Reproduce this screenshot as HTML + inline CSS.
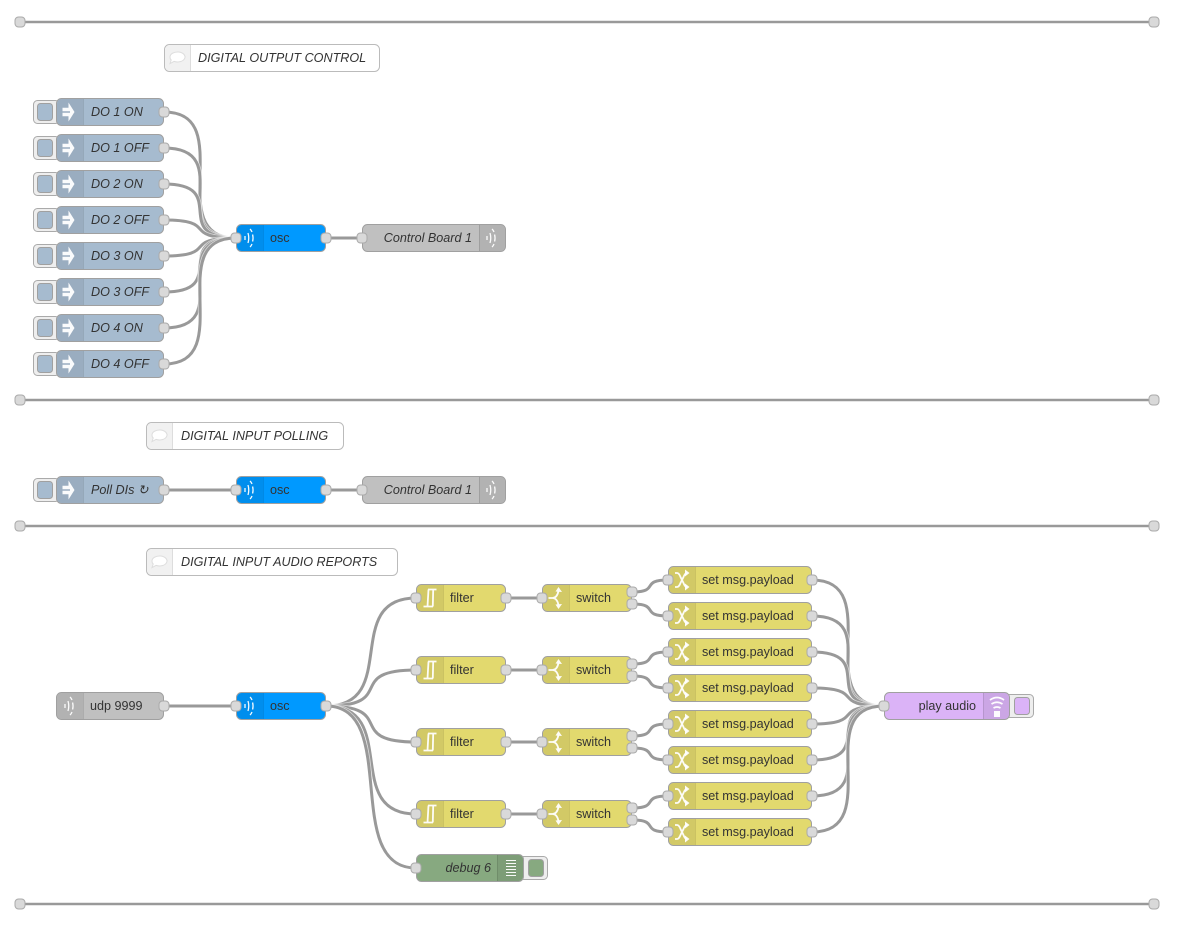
<!DOCTYPE html>
<html><head><meta charset="utf-8"><style>
html,body{margin:0;padding:0;background:#fff}
svg{display:block}
text{font-family:"Liberation Sans",sans-serif;font-size:12.6px;fill:#333}
.i{font-style:italic}
.e{text-anchor:end}
.w path{fill:none;stroke:#999;stroke-width:3}
.w path.o{stroke:#fff;stroke-width:4.6;stroke-opacity:.6}
.n{stroke:#a0a0a0;stroke-width:1}
.a{fill:#000;fill-opacity:.07}
.s{stroke:#000;stroke-opacity:.1;stroke-width:1}
.inj{fill:#a6bbcf}.osc{fill:#0099ff}.gry{fill:#c0c0c0}.yel{fill:#e2d96e}.pur{fill:#dbb3f7}.grn{fill:#87a980}
.btn{fill:#eee;stroke:#aaa;stroke-width:1}
.p{fill:#d9d9d9;stroke:#aaa;stroke-width:1}
.c{fill:#fff;stroke:#bbb;stroke-width:1}
.ca{fill:#f1f1f1;stroke:none}
.t{stroke:#999;stroke-width:2.6}
.ic{fill:none;stroke:#fff;stroke-opacity:.95;stroke-width:1.8}
.if{fill:#fff;fill-opacity:.95;stroke:none}
</style></head><body>
<svg width="1182" height="931" viewBox="0 0 1182 931" xmlns="http://www.w3.org/2000/svg">
<defs>
<rect id="port" x="-5" y="-5" width="10" height="10" rx="3.500" class="p"/>
<g id="iinj"><path class="if" d="M-6.500,-4.200H-.5V-9.500L5.500,0L-.5,9.500V4.200H-6.500V.8H1V-.8H-6.500Z"/></g>
<g id="iosc"><path class="ic" style="stroke-width:1.300" d="M-4,-2V2M-1,-5Q.5,0 -1,5M1,-9Q2.200,-8 3,-6M3.600,-3.500Q4.500,0 3.600,3.500M3,6Q2.200,8 1,9"/></g>
<g id="ifil"><path class="ic" d="M-2,-8.500H6.500M-1.500,-8.500L-2.500,8.500M3.200,-8.500L2.800,8.500M-6.500,8.500H3"/></g>
<g id="isw"><path class="ic" d="M-7.500,0H-3.500Q1,0 2.500,-7M-3.500,0Q1,0 2.500,7"/><path class="if" d="M2.500,-11L6,-6L-.5,-6.500ZM2.500,11L6,6L-.5,6.500Z"/></g>
<g id="ishu"><path class="ic" d="M-7,-7H-5Q-3,-7 -1.500,-3L1.500,3Q3,7 5,7M-7,7H-5Q-3,7 -1.500,3L1.500,-3Q3,-7 5,-7"/><path class="if" d="M3,-10.500L7.500,-7L3,-3.500ZM3,3.500L7.500,7L3,10.500Z"/></g>
<g id="ibub"><path d="M-7.500,0a7.500,5 0 1 1 4,4.400l-4,2.200l1.200,-3.600a7.500,5 0 0 1 -1.200,-3z" fill="#fff" stroke="#ddd"/></g>
</defs>

<!-- wires -->
<g class="w">
<path class="o" d="M164,112C239,112 161,238 236,238"/><path d="M164,112C239,112 161,238 236,238"/>
<path class="o" d="M164,148C239,148 161,238 236,238"/><path d="M164,148C239,148 161,238 236,238"/>
<path class="o" d="M164,184C231.500,184 168.500,238 236,238"/><path d="M164,184C231.500,184 168.500,238 236,238"/>
<path class="o" d="M164,220C219.600,220 180.400,238 236,238"/><path d="M164,220C219.600,220 180.400,238 236,238"/>
<path class="o" d="M164,256C219.600,256 180.400,238 236,238"/><path d="M164,256C219.600,256 180.400,238 236,238"/>
<path class="o" d="M164,292C231.500,292 168.500,238 236,238"/><path d="M164,292C231.500,292 168.500,238 236,238"/>
<path class="o" d="M164,328C239,328 161,238 236,238"/><path d="M164,328C239,328 161,238 236,238"/>
<path class="o" d="M164,364C239,364 161,238 236,238"/><path d="M164,364C239,364 161,238 236,238"/>
<path d="M326,238H362"/>
<path d="M164,490H236"/>
<path d="M326,490H362"/>
<path d="M164,706H236"/>
<path class="o" d="M326,706C401,706 341,598 416,598"/><path d="M326,706C401,706 341,598 416,598"/>
<path class="o" d="M326,706C398.700,706 343.300,670 416,670"/><path d="M326,706C398.700,706 343.300,670 416,670"/>
<path class="o" d="M326,706C398.700,706 343.300,742 416,742"/><path d="M326,706C398.700,706 343.300,742 416,742"/>
<path class="o" d="M326,706C401,706 341,814 416,814"/><path d="M326,706C401,706 341,814 416,814"/>
<path class="o" d="M326,706C401,706 341,868 416,868"/><path d="M326,706C401,706 341,868 416,868"/>
<path d="M506,598H542"/><path d="M506,670H542"/><path d="M506,742H542"/><path d="M506,814H542"/>
<path d="M632,592C660.500,592 639.500,580 668,580"/><path d="M632,604C660.500,604 639.500,616 668,616"/>
<path d="M632,664C660.500,664 639.500,652 668,652"/><path d="M632,676C660.500,676 639.500,688 668,688"/>
<path d="M632,736C660.500,736 639.500,724 668,724"/><path d="M632,748C660.500,748 639.500,760 668,760"/>
<path d="M632,808C660.500,808 639.500,796 668,796"/><path d="M632,820C660.500,820 639.500,832 668,832"/>
<path class="o" d="M812,580C887,580 809,706 884,706"/><path d="M812,580C887,580 809,706 884,706"/>
<path class="o" d="M812,616C887,616 809,706 884,706"/><path d="M812,616C887,616 809,706 884,706"/>
<path class="o" d="M812,652C879.500,652 816.500,706 884,706"/><path d="M812,652C879.500,652 816.500,706 884,706"/>
<path class="o" d="M812,688C867.600,688 828.400,706 884,706"/><path d="M812,688C867.600,688 828.400,706 884,706"/>
<path class="o" d="M812,724C867.600,724 828.400,706 884,706"/><path d="M812,724C867.600,724 828.400,706 884,706"/>
<path class="o" d="M812,760C879.500,760 816.500,706 884,706"/><path d="M812,760C879.500,760 816.500,706 884,706"/>
<path class="o" d="M812,796C887,796 809,706 884,706"/><path d="M812,796C887,796 809,706 884,706"/>
<path class="o" d="M812,832C887,832 809,706 884,706"/><path d="M812,832C887,832 809,706 884,706"/>
</g>

<!-- tab lines -->
<path class="t" d="M20,22H1154M20,400H1154M20,526H1154M20,904H1154"/>
<use href="#port" x="20" y="22"/><use href="#port" x="1154" y="22"/>
<use href="#port" x="20" y="400"/><use href="#port" x="1154" y="400"/>
<use href="#port" x="20" y="526"/><use href="#port" x="1154" y="526"/>
<use href="#port" x="20" y="904"/><use href="#port" x="1154" y="904"/>

<!-- comments -->
<rect class="c" x="164.500" y="44.500" width="215" height="27" rx="5"/><path class="ca" d="M165,50a5,5 0 0 1 5,-5h20v26h-20a5,5 0 0 1 -5,-5z"/><path stroke="#ddd" d="M190.500,45V71"/>
<use href="#ibub" x="177.500" y="57"/><text class="i" x="198" y="62">DIGITAL OUTPUT CONTROL</text>
<rect class="c" x="146.500" y="422.500" width="197" height="27" rx="5"/><path class="ca" d="M147,428a5,5 0 0 1 5,-5h20v26h-20a5,5 0 0 1 -5,-5z"/><path stroke="#ddd" d="M172.500,423V449"/>
<use href="#ibub" x="159.500" y="435"/><text class="i" x="181" y="440">DIGITAL INPUT POLLING</text>
<rect class="c" x="146.500" y="548.500" width="251" height="27" rx="5"/><path class="ca" d="M147,554a5,5 0 0 1 5,-5h20v26h-20a5,5 0 0 1 -5,-5z"/><path stroke="#ddd" d="M172.500,549V575"/>
<use href="#ibub" x="159.500" y="561"/><text class="i" x="181" y="566">DIGITAL INPUT AUDIO REPORTS</text>

<!-- inject nodes -->
<g>
<rect class="btn" x="33.500" y="100.500" width="26" height="23" rx="4"/><rect class="inj n" x="37.500" y="103.500" width="15" height="17" rx="3"/>
<rect class="inj n" x="56.500" y="98.500" width="107" height="27" rx="5"/><path class="a" d="M57,104a5,5 0 0 1 5,-5h21v26h-21a5,5 0 0 1 -5,-5z"/><path class="s" d="M83.500,99V125"/><use href="#iinj" x="69" y="112"/><text class="i" x="91" y="116">DO 1 ON</text><use href="#port" x="164" y="112"/>

<rect class="btn" x="33.500" y="136.500" width="26" height="23" rx="4"/><rect class="inj n" x="37.500" y="139.500" width="15" height="17" rx="3"/>
<rect class="inj n" x="56.500" y="134.500" width="107" height="27" rx="5"/><path class="a" d="M57,140a5,5 0 0 1 5,-5h21v26h-21a5,5 0 0 1 -5,-5z"/><path class="s" d="M83.500,135V161"/><use href="#iinj" x="69" y="148"/><text class="i" x="91" y="152">DO 1 OFF</text><use href="#port" x="164" y="148"/>

<rect class="btn" x="33.500" y="172.500" width="26" height="23" rx="4"/><rect class="inj n" x="37.500" y="175.500" width="15" height="17" rx="3"/>
<rect class="inj n" x="56.500" y="170.500" width="107" height="27" rx="5"/><path class="a" d="M57,176a5,5 0 0 1 5,-5h21v26h-21a5,5 0 0 1 -5,-5z"/><path class="s" d="M83.500,171V197"/><use href="#iinj" x="69" y="184"/><text class="i" x="91" y="188">DO 2 ON</text><use href="#port" x="164" y="184"/>

<rect class="btn" x="33.500" y="208.500" width="26" height="23" rx="4"/><rect class="inj n" x="37.500" y="211.500" width="15" height="17" rx="3"/>
<rect class="inj n" x="56.500" y="206.500" width="107" height="27" rx="5"/><path class="a" d="M57,212a5,5 0 0 1 5,-5h21v26h-21a5,5 0 0 1 -5,-5z"/><path class="s" d="M83.500,207V233"/><use href="#iinj" x="69" y="220"/><text class="i" x="91" y="224">DO 2 OFF</text><use href="#port" x="164" y="220"/>

<rect class="btn" x="33.500" y="244.500" width="26" height="23" rx="4"/><rect class="inj n" x="37.500" y="247.500" width="15" height="17" rx="3"/>
<rect class="inj n" x="56.500" y="242.500" width="107" height="27" rx="5"/><path class="a" d="M57,248a5,5 0 0 1 5,-5h21v26h-21a5,5 0 0 1 -5,-5z"/><path class="s" d="M83.500,243V269"/><use href="#iinj" x="69" y="256"/><text class="i" x="91" y="260">DO 3 ON</text><use href="#port" x="164" y="256"/>

<rect class="btn" x="33.500" y="280.500" width="26" height="23" rx="4"/><rect class="inj n" x="37.500" y="283.500" width="15" height="17" rx="3"/>
<rect class="inj n" x="56.500" y="278.500" width="107" height="27" rx="5"/><path class="a" d="M57,284a5,5 0 0 1 5,-5h21v26h-21a5,5 0 0 1 -5,-5z"/><path class="s" d="M83.500,279V305"/><use href="#iinj" x="69" y="292"/><text class="i" x="91" y="296">DO 3 OFF</text><use href="#port" x="164" y="292"/>

<rect class="btn" x="33.500" y="316.500" width="26" height="23" rx="4"/><rect class="inj n" x="37.500" y="319.500" width="15" height="17" rx="3"/>
<rect class="inj n" x="56.500" y="314.500" width="107" height="27" rx="5"/><path class="a" d="M57,320a5,5 0 0 1 5,-5h21v26h-21a5,5 0 0 1 -5,-5z"/><path class="s" d="M83.500,315V341"/><use href="#iinj" x="69" y="328"/><text class="i" x="91" y="332">DO 4 ON</text><use href="#port" x="164" y="328"/>

<rect class="btn" x="33.500" y="352.500" width="26" height="23" rx="4"/><rect class="inj n" x="37.500" y="355.500" width="15" height="17" rx="3"/>
<rect class="inj n" x="56.500" y="350.500" width="107" height="27" rx="5"/><path class="a" d="M57,356a5,5 0 0 1 5,-5h21v26h-21a5,5 0 0 1 -5,-5z"/><path class="s" d="M83.500,351V377"/><use href="#iinj" x="69" y="364"/><text class="i" x="91" y="368">DO 4 OFF</text><use href="#port" x="164" y="364"/>

<rect class="btn" x="33.500" y="478.500" width="26" height="23" rx="4"/><rect class="inj n" x="37.500" y="481.500" width="15" height="17" rx="3"/>
<rect class="inj n" x="56.500" y="476.500" width="107" height="27" rx="5"/><path class="a" d="M57,482a5,5 0 0 1 5,-5h21v26h-21a5,5 0 0 1 -5,-5z"/><path class="s" d="M83.500,477V503"/><use href="#iinj" x="69" y="490"/><text class="i" x="91" y="494">Poll DIs ↻</text><use href="#port" x="164" y="490"/>
</g>

<!-- osc nodes -->
<rect class="osc n" x="236.500" y="224.500" width="89" height="27" rx="5"/><path class="a" d="M237,230a5,5 0 0 1 5,-5h21v26h-21a5,5 0 0 1 -5,-5z"/><path class="s" d="M263.500,225V251"/><use href="#iosc" x="249" y="238"/><text x="270" y="242">osc</text><use href="#port" x="236" y="238"/><use href="#port" x="326" y="238"/>
<rect class="osc n" x="236.500" y="476.500" width="89" height="27" rx="5"/><path class="a" d="M237,482a5,5 0 0 1 5,-5h21v26h-21a5,5 0 0 1 -5,-5z"/><path class="s" d="M263.500,477V503"/><use href="#iosc" x="249" y="490"/><text x="270" y="494">osc</text><use href="#port" x="236" y="490"/><use href="#port" x="326" y="490"/>
<rect class="osc n" x="236.500" y="692.500" width="89" height="27" rx="5"/><path class="a" d="M237,698a5,5 0 0 1 5,-5h21v26h-21a5,5 0 0 1 -5,-5z"/><path class="s" d="M263.500,693V719"/><use href="#iosc" x="249" y="706"/><text x="270" y="710">osc</text><use href="#port" x="236" y="706"/><use href="#port" x="326" y="706"/>

<!-- udp out -->
<rect class="gry n" x="362.500" y="224.500" width="143" height="27" rx="5"/><path class="a" d="M479,225h21a5,5 0 0 1 5,5v16a5,5 0 0 1 -5,5h-21z"/><path class="s" d="M479.500,225V251"/><use href="#iosc" x="491" y="238"/><text class="i e" x="472" y="242">Control Board 1</text><use href="#port" x="362" y="238"/>
<rect class="gry n" x="362.500" y="476.500" width="143" height="27" rx="5"/><path class="a" d="M479,477h21a5,5 0 0 1 5,5v16a5,5 0 0 1 -5,5h-21z"/><path class="s" d="M479.500,477V503"/><use href="#iosc" x="491" y="490"/><text class="i e" x="472" y="494">Control Board 1</text><use href="#port" x="362" y="490"/>

<!-- udp in -->
<rect class="gry n" x="56.500" y="692.500" width="107" height="27" rx="5"/><path class="a" d="M57,698a5,5 0 0 1 5,-5h21v26h-21a5,5 0 0 1 -5,-5z"/><path class="s" d="M83.500,693V719"/><use href="#iosc" x="69" y="706"/><text x="90" y="710">udp 9999</text><use href="#port" x="164" y="706"/>

<!-- filters -->
<rect class="yel n" x="416.500" y="584.500" width="89" height="27" rx="5"/><path class="a" d="M417,590a5,5 0 0 1 5,-5h21v26h-21a5,5 0 0 1 -5,-5z"/><path class="s" d="M443.500,585V611"/><use href="#ifil" x="430" y="598"/><text x="450" y="602">filter</text><use href="#port" x="416" y="598"/><use href="#port" x="506" y="598"/>
<rect class="yel n" x="416.500" y="656.500" width="89" height="27" rx="5"/><path class="a" d="M417,662a5,5 0 0 1 5,-5h21v26h-21a5,5 0 0 1 -5,-5z"/><path class="s" d="M443.500,657V683"/><use href="#ifil" x="430" y="670"/><text x="450" y="674">filter</text><use href="#port" x="416" y="670"/><use href="#port" x="506" y="670"/>
<rect class="yel n" x="416.500" y="728.500" width="89" height="27" rx="5"/><path class="a" d="M417,734a5,5 0 0 1 5,-5h21v26h-21a5,5 0 0 1 -5,-5z"/><path class="s" d="M443.500,729V755"/><use href="#ifil" x="430" y="742"/><text x="450" y="746">filter</text><use href="#port" x="416" y="742"/><use href="#port" x="506" y="742"/>
<rect class="yel n" x="416.500" y="800.500" width="89" height="27" rx="5"/><path class="a" d="M417,806a5,5 0 0 1 5,-5h21v26h-21a5,5 0 0 1 -5,-5z"/><path class="s" d="M443.500,801V827"/><use href="#ifil" x="430" y="814"/><text x="450" y="818">filter</text><use href="#port" x="416" y="814"/><use href="#port" x="506" y="814"/>

<!-- switches -->
<rect class="yel n" x="542.500" y="584.500" width="89" height="27" rx="5"/><path class="a" d="M543,590a5,5 0 0 1 5,-5h21v26h-21a5,5 0 0 1 -5,-5z"/><path class="s" d="M569.500,585V611"/><use href="#isw" x="556" y="598"/><text x="576" y="602">switch</text><use href="#port" x="542" y="598"/><use href="#port" x="632" y="592"/><use href="#port" x="632" y="604"/>
<rect class="yel n" x="542.500" y="656.500" width="89" height="27" rx="5"/><path class="a" d="M543,662a5,5 0 0 1 5,-5h21v26h-21a5,5 0 0 1 -5,-5z"/><path class="s" d="M569.500,657V683"/><use href="#isw" x="556" y="670"/><text x="576" y="674">switch</text><use href="#port" x="542" y="670"/><use href="#port" x="632" y="664"/><use href="#port" x="632" y="676"/>
<rect class="yel n" x="542.500" y="728.500" width="89" height="27" rx="5"/><path class="a" d="M543,734a5,5 0 0 1 5,-5h21v26h-21a5,5 0 0 1 -5,-5z"/><path class="s" d="M569.500,729V755"/><use href="#isw" x="556" y="742"/><text x="576" y="746">switch</text><use href="#port" x="542" y="742"/><use href="#port" x="632" y="736"/><use href="#port" x="632" y="748"/>
<rect class="yel n" x="542.500" y="800.500" width="89" height="27" rx="5"/><path class="a" d="M543,806a5,5 0 0 1 5,-5h21v26h-21a5,5 0 0 1 -5,-5z"/><path class="s" d="M569.500,801V827"/><use href="#isw" x="556" y="814"/><text x="576" y="818">switch</text><use href="#port" x="542" y="814"/><use href="#port" x="632" y="808"/><use href="#port" x="632" y="820"/>

<!-- change nodes -->
<rect class="yel n" x="668.500" y="566.500" width="143" height="27" rx="5"/><path class="a" d="M669,572a5,5 0 0 1 5,-5h21v26h-21a5,5 0 0 1 -5,-5z"/><path class="s" d="M695.500,567V593"/><use href="#ishu" x="682" y="580"/><text x="702" y="584">set msg.payload</text><use href="#port" x="668" y="580"/><use href="#port" x="812" y="580"/>
<rect class="yel n" x="668.500" y="602.500" width="143" height="27" rx="5"/><path class="a" d="M669,608a5,5 0 0 1 5,-5h21v26h-21a5,5 0 0 1 -5,-5z"/><path class="s" d="M695.500,603V629"/><use href="#ishu" x="682" y="616"/><text x="702" y="620">set msg.payload</text><use href="#port" x="668" y="616"/><use href="#port" x="812" y="616"/>
<rect class="yel n" x="668.500" y="638.500" width="143" height="27" rx="5"/><path class="a" d="M669,644a5,5 0 0 1 5,-5h21v26h-21a5,5 0 0 1 -5,-5z"/><path class="s" d="M695.500,639V665"/><use href="#ishu" x="682" y="652"/><text x="702" y="656">set msg.payload</text><use href="#port" x="668" y="652"/><use href="#port" x="812" y="652"/>
<rect class="yel n" x="668.500" y="674.500" width="143" height="27" rx="5"/><path class="a" d="M669,680a5,5 0 0 1 5,-5h21v26h-21a5,5 0 0 1 -5,-5z"/><path class="s" d="M695.500,675V701"/><use href="#ishu" x="682" y="688"/><text x="702" y="692">set msg.payload</text><use href="#port" x="668" y="688"/><use href="#port" x="812" y="688"/>
<rect class="yel n" x="668.500" y="710.500" width="143" height="27" rx="5"/><path class="a" d="M669,716a5,5 0 0 1 5,-5h21v26h-21a5,5 0 0 1 -5,-5z"/><path class="s" d="M695.500,711V737"/><use href="#ishu" x="682" y="724"/><text x="702" y="728">set msg.payload</text><use href="#port" x="668" y="724"/><use href="#port" x="812" y="724"/>
<rect class="yel n" x="668.500" y="746.500" width="143" height="27" rx="5"/><path class="a" d="M669,752a5,5 0 0 1 5,-5h21v26h-21a5,5 0 0 1 -5,-5z"/><path class="s" d="M695.500,747V773"/><use href="#ishu" x="682" y="760"/><text x="702" y="764">set msg.payload</text><use href="#port" x="668" y="760"/><use href="#port" x="812" y="760"/>
<rect class="yel n" x="668.500" y="782.500" width="143" height="27" rx="5"/><path class="a" d="M669,788a5,5 0 0 1 5,-5h21v26h-21a5,5 0 0 1 -5,-5z"/><path class="s" d="M695.500,783V809"/><use href="#ishu" x="682" y="796"/><text x="702" y="800">set msg.payload</text><use href="#port" x="668" y="796"/><use href="#port" x="812" y="796"/>
<rect class="yel n" x="668.500" y="818.500" width="143" height="27" rx="5"/><path class="a" d="M669,824a5,5 0 0 1 5,-5h21v26h-21a5,5 0 0 1 -5,-5z"/><path class="s" d="M695.500,819V845"/><use href="#ishu" x="682" y="832"/><text x="702" y="836">set msg.payload</text><use href="#port" x="668" y="832"/><use href="#port" x="812" y="832"/>

<!-- play audio -->
<rect class="btn" x="1005.500" y="694.500" width="28" height="23" rx="4"/><rect class="pur n" x="1014.500" y="697.500" width="15" height="17" rx="3"/>
<rect class="pur n" x="884.500" y="692.500" width="125" height="27" rx="5"/><path class="a" d="M983,693h21a5,5 0 0 1 5,5v16a5,5 0 0 1 -5,5h-21z"/><path class="s" d="M983.500,693V719"/>
<path class="ic" d="M990,700Q997,695 1004,700M991.500,704Q997,700.500 1002.500,704M993.500,708Q997,706 1000.500,708"/><rect class="if" x="994" y="711" width="6" height="6"/>
<text class="e" x="976" y="710">play audio</text><use href="#port" x="884" y="706"/>

<!-- debug -->
<rect class="btn" x="519.500" y="856.500" width="28" height="23" rx="4"/><rect class="grn n" x="528.500" y="859.500" width="15" height="17" rx="3"/>
<rect class="grn n" x="416.500" y="854.500" width="107" height="27" rx="5"/><path class="a" d="M497,855h21a5,5 0 0 1 5,5v16a5,5 0 0 1 -5,5h-21z"/><path class="s" d="M497.500,855V881"/>
<path class="ic" style="stroke-width:1.100" d="M506,860.500H516M506,863.500H516M506,866.500H516M506,869.500H516M506,872.500H516M506,875.500H516"/>
<text class="i e" x="491" y="872">debug 6</text><use href="#port" x="416" y="868"/>
</svg>
</body></html>
